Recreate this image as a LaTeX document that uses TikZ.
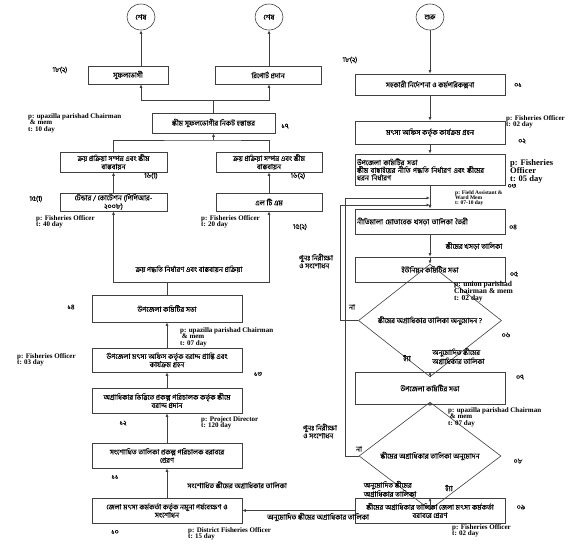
\documentclass[tikz,border=0pt]{standalone}
\usepackage{fontspec}
\setmainfont{Liberation Serif}
\newfontfamily\bn[Script=Bengali,FakeBold=0.12]{Hind Siliguri}
\usetikzlibrary{shapes.geometric,arrows.meta}
\newcommand\bntxt{\bn\fontsize{7.2}{8.2}\selectfont}
\begin{document}
\begin{tikzpicture}[x=1pt,y=-1pt,
  lc/.style={draw=black!75},
  box/.style={lc, line width=0.6pt, align=center, inner sep=1pt, font=\bntxt},
  endc/.style={lc, line width=0.6pt, ellipse, minimum width=28pt, minimum height=26pt, inner sep=0pt, font=\bntxt},
  dia/.style={lc, line width=0.6pt, diamond, inner sep=0pt, font=\bntxt},
  arr/.style={lc, line width=0.7pt, -{Latex[length=3.5pt,width=3pt]}},
  ln/.style={lc, line width=0.7pt},
  ann/.style={font=\bfseries\fontsize{7}{6.8}\selectfont, align=left, inner sep=0pt, anchor=north west},
  num/.style={font=\bn\fontsize{7}{8}\selectfont, inner sep=0pt},
  lbl/.style={font=\bn\fontsize{7.2}{7.8}\selectfont, inner sep=0pt, align=left}]
\useasboundingbox (0,0) rectangle (588,549);
\fill[white] (0,0) rectangle (588,549);

% ---------- left column ----------
\node[endc] (e1) at (141,17) {শেষ};
\node[endc] (e2) at (269,17) {শেষ};
\node[box, minimum width=80pt, minimum height=18pt] (b18a) at (128,75) {সুফলভোগী};
\node[box, minimum width=106pt, minimum height=18pt] (b18b) at (268,75) {রিপোর্ট প্রদান};
\node[box, minimum width=123pt, minimum height=20pt] (b17) at (213.5,123) {স্কীম সুফলভোগীর নিকট হস্তান্তর};
\node[box, minimum width=107pt, minimum height=20pt] (b16a) at (113.5,162) {ক্রয় প্রক্রিয়া সম্পন্ন এবং স্কীম\\বাস্তবায়ন};
\node[box, minimum width=106pt, minimum height=20pt] (b16b) at (269,162) {ক্রয় প্রক্রিয়া সম্পন্ন এবং স্কীম\\বাস্তবায়ন};
\node[box, minimum width=107pt, minimum height=18pt] (b15a) at (113.5,202) {টেন্ডার / কোটেশন (পিপিআর-\\২০০৮)};
\node[box, minimum width=106pt, minimum height=18pt] (b15b) at (269,202) {এল টি এম};
\node[box, minimum width=150pt, minimum height=27pt] (b14) at (167,308.5) {উপজেলা কমিটির সভা};
\node[box, minimum width=150pt, minimum height=24pt] (b13) at (167,360) {উপজেলা মৎস্য অফিস কর্তৃক বরাদ্দ প্রাপ্তি এবং\\কার্যক্রম গ্রহন};
\node[box, minimum width=150pt, minimum height=25pt] (b12) at (167,400.5) {অগ্রাধিকার ভিত্তিতে প্রকল্প পরিচালক কর্তৃক স্কীমে\\বরাদ্দ প্রদান};
\node[box, minimum width=150pt, minimum height=25pt] (b11) at (167,455.5) {সংশোধিত তালিকা প্রকল্প পরিচালক বরাবরে\\প্রেরণ};
\node[box, minimum width=150pt, minimum height=25pt] (b10) at (167,510.5) {জেলা মৎস্য কর্মকর্তা কর্তৃক নমুনা পর্যবেক্ষণ ও\\সংশোধন};

% ---------- right column ----------
\node[endc] (st) at (430,17) {শুরু};
\node[box, minimum width=150pt, minimum height=21pt] (b01) at (430,84.5) {সহকারী নির্দেশনা ও কর্মপরিকল্পনা};
\node[box, minimum width=150pt, minimum height=23pt] (b02) at (430,132.5) {মৎস্য অফিস কর্তৃক কার্যক্রম গ্রহন};
\node[box, minimum width=150pt, minimum height=31pt, text width=146pt, align=left, font=\bn\fontsize{7.2}{7.6}\selectfont] (b03) at (430,169.5) {উপজেলা কমিটির সভা\\স্কীম বাছাইয়ের নীতি পদ্ধতি নির্ধারণ এবং স্কীমের\\ধরন নির্ধারণ};
\node[box, minimum width=150pt, minimum height=25pt, text width=146pt, align=left] (b04) at (430,221.5) {নীতিমালা মোতাবেক খসড়া তালিকা তৈরী};
\node[box, minimum width=150pt, minimum height=25pt] (b05) at (430,269.5) {ইউনিয়ন কমিটির সভা};
\node[dia, minimum width=143pt, minimum height=49pt] (d06) at (430,320.5) {স্কীমের অগ্রাধিকার তালিকা অনুমোদন ?};
\node[box, minimum width=150pt, minimum height=32pt] (b07) at (430,388) {উপজেলা কমিটির সভা};
\node[dia, minimum width=142pt, minimum height=51pt] (d08) at (430,456) {স্কীমের অগ্রাধিকার তালিকা অনুমোদন};
\node[box, minimum width=150pt, minimum height=25pt] (b09) at (430,510.5) {স্কীমের অগ্রাধিকার তালিকা জেলা মৎস্য কর্মকর্তা\\বরাবরে প্রেরণ};

% ---------- connectors: right column ----------
\draw[arr] (st) -- (b01);
\draw[arr] (b01) -- (b02);
\draw[arr] (b02) -- (b03);
\draw[arr] (b03) -- (b04);
\draw[arr] (b04) -- (b05);
\draw[arr] (b05) -- (d06);
\draw[arr] (d06) -- (b07);
\draw[arr] (b07) -- (d08);
\draw[arr] (d08) -- (b09);
\coordinate (m1) at (430,205);
\coordinate (m2) at (430,198);
\draw[arr] (d06.west) -- ++(-18,0) |- (m1);
\draw[arr] (d08.west) -- ++(-13,0) |- (m2);
\draw[arr] (b09.west) -- (b10.east);

% ---------- connectors: left column ----------
\draw[arr] (b10) -- (b11);
\draw[arr] (b11) -- (b12);
\draw[arr] (b12) -- (b13);
\draw[arr] (b13) -- (b14);
\coordinate (j14) at (167,282);
\draw[ln] (b14.north) -- (j14);
\draw[arr] (j14) -| (b15a.south);
\draw[arr] (j14) -| (b15b.south);
\draw[arr] (b15a) -- (b16a);
\draw[arr] (b15b) -- (b16b);
\coordinate (j17) at (213.5,140);
\draw[ln] (b16a.north) |- (j17) -| (b16b.north);
\draw[arr] (j17) -- (b17.south);
\coordinate (j18) at (213.5,100);
\draw[ln] (b17.north) -- (j18);
\draw[arr] (j18) -| (b18a.south -| e1);
\draw[arr] (j18) -| (b18b.south -| e2);
\draw[arr] (b18a.north -| e1) -- (e1.south);
\draw[arr] (b18b.north -| e2) -- (e2.south);

% ---------- numbers ----------
\node[num] (n18a) at (60,70) {1৮(২)};
\node[num] (n18b) at (350,60) {1৮(২)};
\node[num] (n17) at (285,126) {১৭};
\node[num] (n16a) at (151,176) {1৬(1)};
\node[num] (n16b) at (298,176) {1৬(২)};
\node[num] (n15a) at (36,199) {1৫(1)};
\node[num] (n15b) at (300,227) {1৫(২)};
\node[num] (n14) at (71,307) {১৪};
\node[num] (n13) at (258,374) {১৩};
\node[num] (n12) at (123,423) {১২};
\node[num] (n11) at (115,477) {১১};
\node[num] (n10) at (115,532) {১০};
\node[num] (n01) at (518,85) {০১};
\node[num] (n02) at (522,141) {০২};
\node[num] (n03) at (512,186) {০৩};
\node[num] (n04) at (513,227) {০৪};
\node[num] (n05) at (514,274) {০৫};
\node[num] (n06) at (506,335) {০৬};
\node[num] (n07) at (520,377) {০৭};
\node[num] (n08) at (518,461) {০৮};
\node[num] (n09) at (521,507) {০৯};

% ---------- annotations ----------
\node[ann] (a17) at (28,113) {p: upazilla parishad Chairman\\\ \& mem\\t: 10 day};
\node[ann] (a15a) at (36,215) {p: Fisheries Officer\\t: 40 day};
\node[ann] (a15b) at (201,215) {p: Fisheries Officer\\t: 20 day};
\node[ann] (a14) at (180,327) {p: upazilla parishad Chairman\\\ \& mem\\t: 07 day};
\node[ann] (a13) at (17,353) {p: Fisheries Officer\\t: 03 day};
\node[ann] (a12) at (201,416) {p: Project Director\\t: 120 day};
\node[ann] (a10) at (188,527) {p: District Fisheries Officer\\t: 15 day};
\node[ann] (a02) at (506,115) {p: Fisheries Officer\\t: 02 day};
\node[ann, font=\bfseries\fontsize{8.5}{7.3}\selectfont] (a03) at (510,159) {p: Fisheries\\Officer\\t: 05 day};
\node[ann, font=\bfseries\fontsize{5.5}{5}\selectfont] (a04) at (455,190) {p: Field Assistant \&\\Ward Mem\\t: 07-10 day};
\node[ann, font=\bfseries\fontsize{7.5}{7}\selectfont] (a05) at (454,281) {p: union parishad\\Chairman \& mem\\t: 02 day};
\node[ann] (a07) at (448,407) {p: upazilla parishad Chairman\\\ \& mem\\t: 07 day};
\node[ann] (a09) at (452,524) {p: Fisheries Officer\\t: 02 day};

% ---------- edge labels ----------
\node[lbl] (l15) at (189,269) {ক্রয় পদ্ধতি নির্ধারণ এবং বাস্তবায়ন প্রক্রিয়া};
\node[lbl] (l11) at (237,485) {সংশোধিত স্কীমের অগ্রাধিকার তালিকা};
\node[lbl] (l10) at (318,517) {অনুমোদিত স্কীমের অগ্রাধিকার তালিকা};
\node[lbl] (l05) at (474,246) {স্কীমের খসড়া তালিকা};
\node[lbl] (no1) at (352,307) {না};
\node[lbl] (no2) at (359,449) {না};
\node[lbl] (yes1) at (407,358) {হ্যাঁ};
\node[lbl] (yes2) at (449,488) {হ্যাঁ};
\node[lbl, anchor=north west] (ap1) at (432,348) {অনুমোদিত স্কীমের\\অগ্রাধিকার তালিকা};
\node[lbl] (ap2) at (390,489) {অনুমোদিত স্কীমের\\অগ্রাধিকার তালিকা};
\node[lbl] (rv1) at (316,261) {পুনঃ নিরীক্ষা\\ও সংশোধন};
\node[lbl] (rv2) at (320,431) {পুনঃ নিরীক্ষা\\ও সংশোধন};
\end{tikzpicture}
\end{document}
